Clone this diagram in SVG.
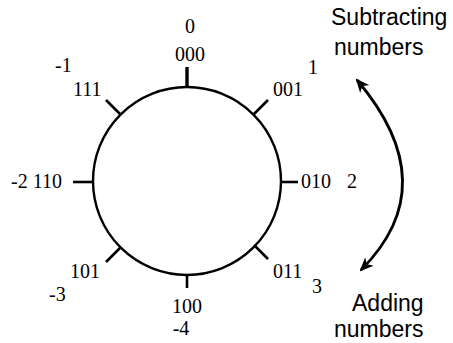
<svg xmlns="http://www.w3.org/2000/svg" width="453" height="343" viewBox="0 0 453 343">
<defs>
<style>
.num{font-family:"Liberation Serif","Times New Roman",serif;font-size:20px;fill:#000}
.lab{font-family:"Liberation Sans",Arial,sans-serif;font-size:23px;fill:#000}
.tick{stroke:#000;stroke-width:2.6;fill:none}
.ring{stroke:#000;stroke-width:2.4;fill:none}
.arr{stroke:#000;stroke-width:2.8;fill:none}
</style>
<marker id="ah" viewBox="0 0 14 12" refX="12" refY="6" markerWidth="14" markerHeight="12" markerUnits="userSpaceOnUse" orient="auto-start-reverse">
<path d="M0,0 L14,6 L0,12 L4,6 Z" fill="#000"/>
</marker>
</defs>
<rect width="453" height="343" fill="#fff"/>
<g id="ring"><circle class="ring" cx="187" cy="181" r="94"/></g>
<g id="n000"><line class="tick" x1="187" y1="86" x2="187" y2="67" style="stroke-width:3.4"/><text class="num" x="190" y="33" text-anchor="middle">0</text><text class="num" x="190" y="61" text-anchor="middle">000</text></g>
<g id="n001"><line class="tick" x1="254" y1="114" x2="268" y2="100"/><text class="num" x="273" y="96">001</text><text class="num" x="308" y="74">1</text></g>
<g id="n010"><line class="tick" x1="281" y1="182" x2="298" y2="182"/><text class="num" x="301" y="188">010</text><text class="num" x="347" y="188">2</text></g>
<g id="n011"><line class="tick" x1="254" y1="245" x2="268" y2="259"/><text class="num" x="273" y="278">011</text><text class="num" x="312" y="293">3</text></g>
<g id="n100"><line class="tick" x1="187" y1="275" x2="187" y2="288"/><text class="num" x="187" y="313" text-anchor="middle">100</text><text class="num" x="181" y="335" text-anchor="middle">-4</text></g>
<g id="n101"><line class="tick" x1="120" y1="248" x2="106" y2="262"/><text class="num" x="70" y="278">101</text><text class="num" x="49" y="301">-3</text></g>
<g id="n110"><line class="tick" x1="93" y1="182" x2="73" y2="182"/><text class="num" x="11" y="188">-2 110</text></g>
<g id="n111"><line class="tick" x1="120" y1="114" x2="106" y2="100"/><text class="num" x="73" y="96">111</text><text class="num" x="55" y="72">-1</text></g>
<g id="sub"><text class="lab" x="331" y="25">Subtracting</text><text class="lab" x="334" y="55">numbers</text></g>
<g id="add"><text class="lab" x="352" y="311">Adding</text><text class="lab" x="334" y="337">numbers</text></g>
<g id="connectors"><path class="arr" d="M357,80 Q446,185 361,270" marker-start="url(#ah)" marker-end="url(#ah)"/></g>
</svg>
